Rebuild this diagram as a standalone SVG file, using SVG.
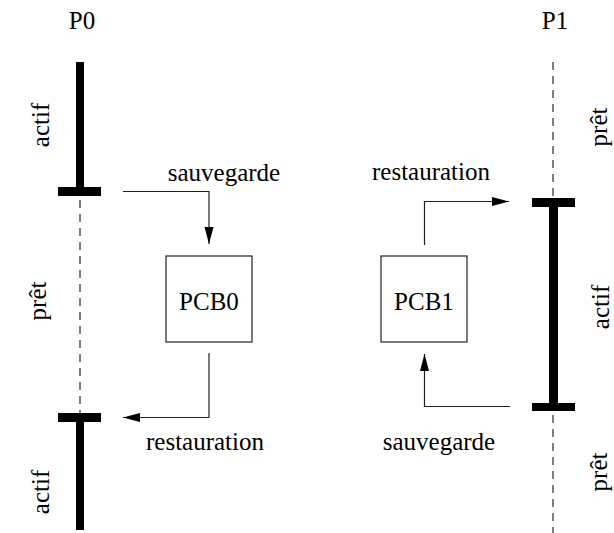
<svg xmlns="http://www.w3.org/2000/svg" width="614" height="533" viewBox="0 0 614 533" font-family="'Liberation Serif', 'Times New Roman', serif" font-size="25">
  <style>
    .mid { text-anchor: middle; }
    .bar { fill: #000; }
    .dash { stroke: #000; stroke-width: 1; stroke-dasharray: 8 6; fill: none; }
    .flow { stroke: #222; stroke-width: 1.2; fill: none; }
    .box { fill: #fff; stroke: #222; stroke-width: 1.2; }
  </style>
  <defs>
    <marker id="head" markerUnits="userSpaceOnUse" markerWidth="18" markerHeight="10" refX="17" refY="5" orient="auto">
      <path d="M0,0.5 L17,5 L0,9.5 Z" fill="#000"/>
    </marker>
  </defs>

  <!-- process P0 timeline -->
  <g id="p0">
    <text class="mid" x="82" y="29">P0</text>
    <rect class="bar" x="76" y="62" width="8" height="133"/>
    <rect class="bar" x="58" y="187" width="43" height="9"/>
    <line class="dash" x1="80" y1="200" x2="80" y2="413"/>
    <rect class="bar" x="58" y="413" width="43" height="9"/>
    <rect class="bar" x="76" y="413" width="8" height="117"/>
    <text class="mid" transform="translate(49,125) rotate(-90)">actif</text>
    <text class="mid" transform="translate(46,301) rotate(-90)">prêt</text>
    <text class="mid" transform="translate(49,492) rotate(-90)">actif</text>
  </g>

  <!-- process P1 timeline -->
  <g id="p1">
    <text class="mid" x="555" y="29">P1</text>
    <line class="dash" x1="553" y1="62" x2="553" y2="198"/>
    <rect class="bar" x="532" y="198" width="43" height="9"/>
    <rect class="bar" x="549" y="198" width="9" height="213"/>
    <rect class="bar" x="532" y="403" width="43" height="8"/>
    <line class="dash" x1="553" y1="415" x2="553" y2="533"/>
    <text class="mid" transform="translate(607,127) rotate(-90)">prêt</text>
    <text class="mid" transform="translate(609,307) rotate(-90)">actif</text>
    <text class="mid" transform="translate(607,472) rotate(-90)">prêt</text>
  </g>

  <!-- saved context blocks -->
  <g id="pcb0">
    <rect class="box" x="166" y="256" width="86" height="86"/>
    <text class="mid" x="209" y="310">PCB0</text>
  </g>
  <g id="pcb1">
    <rect class="box" x="381" y="256" width="86" height="86"/>
    <text class="mid" x="424" y="310">PCB1</text>
  </g>

  <!-- context switch connectors -->
  <g id="connectors">
    <polyline class="flow" points="123,191.5 209,191.5 209,244" marker-end="url(#head)"/>
    <polyline class="flow" points="209,353 209,417.5 123,417.5" marker-end="url(#head)"/>
    <polyline class="flow" points="424.5,245 424.5,201.5 509,201.5" marker-end="url(#head)"/>
    <polyline class="flow" points="510,406.5 424.5,406.5 424.5,354" marker-end="url(#head)"/>
    <text class="mid" x="224" y="181">sauvegarde</text>
    <text class="mid" x="205" y="450">restauration</text>
    <text class="mid" x="431" y="180">restauration</text>
    <text class="mid" x="439" y="450">sauvegarde</text>
  </g>
</svg>
